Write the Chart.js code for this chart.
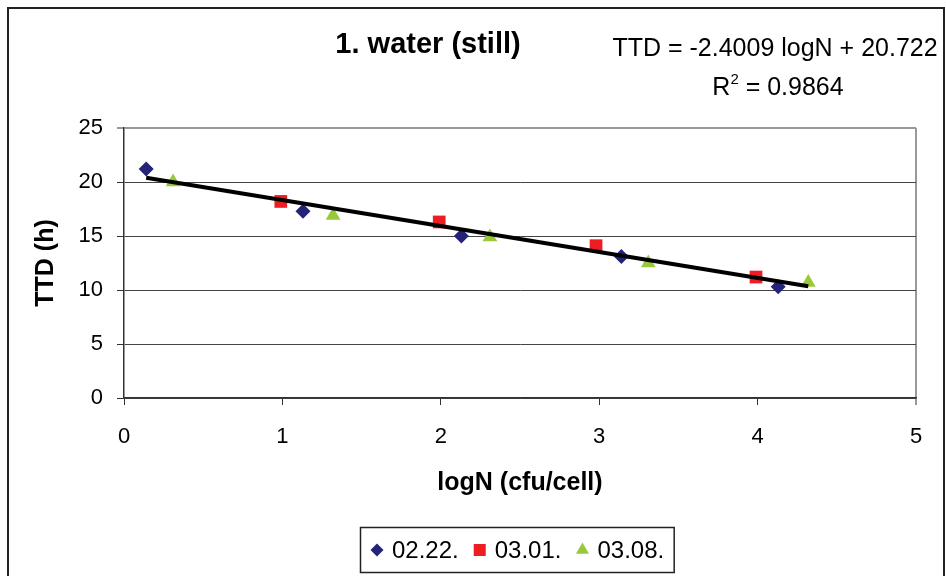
<!DOCTYPE html>
<html>
<head>
<meta charset="utf-8">
<script src="https://cdn.jsdelivr.net/npm/chart.js@4.4.1/dist/chart.umd.min.js"></script>
<style>
	html, body { margin: 0; padding: 0; background: #fff; }
	#wrap { width: 946px; height: 576px; position: relative; }
</style>
</head>
<body>
<div id="wrap"><canvas id="chart"></canvas></div>
<script>
// series
const seriesNames = ['02.22.', '03.01.', '03.08.'];
const logN_0222 = [0.14, 1.13, 2.13, 3.14, 4.13];
const ttd_0222 = [21.2, 17.3, 15.0, 13.1, 10.3];
const logN_0301 = [0.99, 1.99, 2.98, 3.99];
const ttd_0301 = [18.2, 16.3, 14.1, 11.2];
const logN_0308 = [0.31, 1.32, 2.31, 3.31, 4.32];
const ttd_0308 = [20.0, 16.9, 14.9, 12.5, 10.7];

// trendline as printed on the chart
const trendSlope = -2.4009;
const trendIntercept = 20.722;
const trendR2 = '0.9864';

const xTicks = [0, 1, 2, 3, 4, 5];
const yTicks = [0, 5, 10, 15, 20, 25];

const FONT = "'Liberation Sans', Arial, Helvetica, sans-serif";

function pairs(xs, ys) {
	return xs.map(function (x, i) { return {x: x, y: ys[i]}; });
}

let allX = logN_0222.concat(logN_0301, logN_0308);
let xMin = Math.min.apply(null, allX);
let xMax = Math.max.apply(null, allX);
let trendData = [
	{x: xMin, y: trendIntercept + trendSlope * xMin},
	{x: xMax, y: trendIntercept + trendSlope * xMax}
];

const decorPlugin = {
	id: 'decor',
	afterDraw: function (chart) {
		const ctx = chart.ctx;
		ctx.save();
		// outer frame (bottom edge is cut off in the original)
		ctx.strokeStyle = '#222';
		ctx.lineWidth = 2;
		ctx.beginPath();
		ctx.moveTo(8, 580);
		ctx.lineTo(8, 8);
		ctx.lineTo(944, 8);
		ctx.lineTo(944, 580);
		ctx.stroke();

		// title
		ctx.fillStyle = '#000';
		ctx.textAlign = 'center';
		ctx.textBaseline = 'middle';
		ctx.font = 'bold 29px ' + FONT;
		ctx.fillText('1. water (still)', 428, 45);

		// equation
		ctx.font = '25px ' + FONT;
		ctx.fillText('TTD = ' + trendSlope + ' logN + ' + trendIntercept, 775, 49);
		let rest = ' = ' + trendR2;
		ctx.textAlign = 'left';
		let wR = ctx.measureText('R').width;
		let wRest = ctx.measureText(rest).width;
		ctx.font = '15px ' + FONT;
		let wSup = ctx.measureText('2').width;
		let startX = 778 - (wR + wSup + wRest) / 2;
		ctx.font = '25px ' + FONT;
		ctx.fillText('R', startX, 88);
		ctx.font = '15px ' + FONT;
		ctx.fillText('2', startX + wR, 80);
		ctx.font = '25px ' + FONT;
		ctx.fillText(rest, startX + wR + wSup, 88);

		// legend
		let x = 371;
		let y = 550;
		ctx.font = '24px ' + FONT;
		ctx.textBaseline = 'middle';
		seriesNames.forEach(function (name, i) {
			let ds = chart.data.datasets[i + 1];
			ctx.fillStyle = ds.backgroundColor;
			ctx.strokeStyle = ds.backgroundColor;
			Chart.helpers.drawPoint(ctx, {
				pointStyle: ds.pointStyle,
				radius: ds.legendRadius,
				rotation: 0,
				borderWidth: 0
			}, x + 6, y);
			ctx.fillStyle = '#000';
			ctx.fillText(name, x + 21, y + 1);
			x += 21 + ctx.measureText(name).width + 15;
		});
		ctx.strokeStyle = '#222';
		ctx.lineWidth = 1.5;
		ctx.strokeRect(360.5, 527.5, x - 5 - 360.5, 45);
		ctx.restore();
	}
};

new Chart(document.getElementById('chart'), {
	type: 'scatter',
	data: {
		datasets: [
			{
				type: 'line',
				label: 'trend',
				data: trendData,
				borderColor: '#000',
				borderWidth: 4,
				pointRadius: 0,
				fill: false,
				order: 0
			},
			{
				label: seriesNames[0],
				data: pairs(logN_0222, ttd_0222),
				pointStyle: 'rectRot',
				pointRadius: 7.5,
				legendRadius: 6.5,
				backgroundColor: '#23237a',
				borderColor: '#23237a',
				borderWidth: 0,
				order: 1
			},
			{
				label: seriesNames[1],
				data: pairs(logN_0301, ttd_0301),
				pointStyle: 'rect',
				pointRadius: 9,
				legendRadius: 8.5,
				backgroundColor: '#ee1d23',
				borderColor: '#ee1d23',
				borderWidth: 0,
				order: 1
			},
			{
				label: seriesNames[2],
				data: pairs(logN_0308, ttd_0308),
				pointStyle: 'triangle',
				pointRadius: 8.5,
				legendRadius: 7.5,
				backgroundColor: '#99c93a',
				borderColor: '#99c93a',
				borderWidth: 0,
				order: 1
			}
		]
	},
	options: {
		responsive: true,
		maintainAspectRatio: false,
		animation: false,
		layout: {
			padding: {left: 0, top: 128, right: 30, bottom: 78}
		},
		plugins: {
			legend: {display: false},
			title: {display: false},
			tooltip: {enabled: false}
		},
		scales: {
			x: {
				type: 'linear',
				min: xTicks[0],
				max: xTicks[xTicks.length - 1],
				afterFit: function (scale) { scale.height = 100; },
				afterBuildTicks: function (scale) {
					scale.ticks = xTicks.map(function (v) { return {value: v}; });
				},
				ticks: {
					color: '#000',
					font: {family: FONT, size: 22},
					padding: 19,
					maxRotation: 0
				},
				grid: {
					color: function (c) { return c.tick && c.tick.value === 5 ? '#999' : 'rgba(0,0,0,0)'; },
					lineWidth: function (c) { return c.tick && c.tick.value === 5 ? 2 : 1; },
					tickColor: '#333',
					tickLength: 7,
					tickWidth: 1
				},
				border: {display: true, color: '#333', width: 1.5},
				title: {
					display: true,
					text: 'logN (cfu/cell)',
					color: '#000',
					font: {family: FONT, size: 25, weight: 'bold'},
					padding: {top: 0, bottom: 0}
				}
			},
			y: {
				type: 'linear',
				min: yTicks[0],
				max: yTicks[yTicks.length - 1],
				afterFit: function (scale) { scale.width = 124; },
				afterBuildTicks: function (scale) {
					scale.ticks = yTicks.map(function (v) { return {value: v}; });
				},
				ticks: {
					color: '#000',
					font: {family: FONT, size: 22},
					padding: 14
				},
				grid: {
					color: function (c) {
						if (!c.tick) return '#444';
						if (c.tick.value === 25) return '#999';
						return '#444';
					},
					lineWidth: function (c) { return c.tick && c.tick.value === 25 ? 2 : 1; },
					tickColor: '#333',
					tickLength: 7,
					tickWidth: 1
				},
				border: {display: true, color: '#333', width: 1.5},
				title: {
					display: true,
					text: 'TTD (h)',
					color: '#000',
					font: {family: FONT, size: 25, weight: 'bold'},
					padding: {top: 31, bottom: 0}
				}
			}
		}
	},
	plugins: [decorPlugin]
});
</script>
</body>
</html>
